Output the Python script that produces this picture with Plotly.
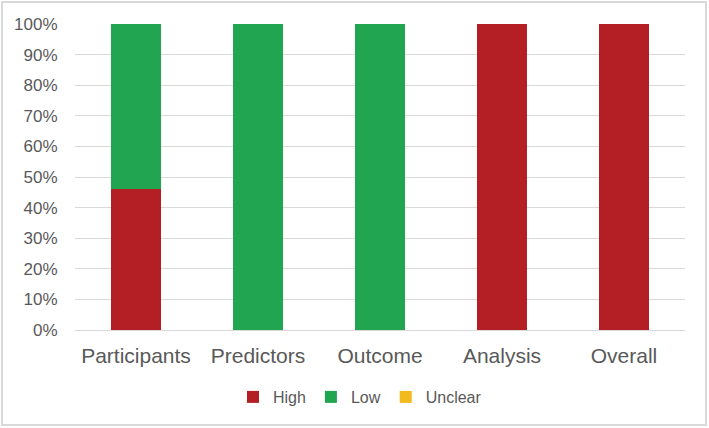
import plotly.graph_objects as go

categories = ["Participants", "Predictors", "Outcome", "Analysis", "Overall"]
high = [46, 0, 0, 100, 100]
low = [54, 100, 100, 0, 0]
unclear = [0, 0, 0, 0, 0]
tick_vals = [0, 10, 20, 30, 40, 50, 60, 70, 80, 90, 100]
tick_text = [f"{v}%" for v in tick_vals]

fig = go.Figure()
fig.add_trace(go.Bar(x=categories, y=high, name="High", marker=dict(color="#B41F26", line=dict(width=0))))
fig.add_trace(go.Bar(x=categories, y=low, name="Low", marker=dict(color="#21A550", line=dict(width=0))))
fig.add_trace(go.Bar(x=categories, y=unclear, name="Unclear", marker=dict(color="#F2BA1C", line=dict(width=0))))

L, R, T, B = 75, 24, 24, 98
W, H = 709, 428
pw, ph = W - L - R, H - T - B

fig.update_layout(
    barmode="stack",
    bargap=0.59,
    width=W, height=H,
    margin=dict(l=L, r=R, t=T, b=B),
    paper_bgcolor="white",
    plot_bgcolor="white",
    font=dict(family="Liberation Sans, Arial, sans-serif", color="#595959"),
    showlegend=True,
    legend=dict(orientation="h", x=(360 - L) / pw, xanchor="center", y=(330 - 397) / ph, yanchor="middle",
                font=dict(size=16, color="#595959"), itemwidth=30, traceorder="normal"),
    xaxis=dict(tickfont=dict(size=21, color="#595959"), showgrid=False, showline=True,
               linecolor="#D9D9D9", linewidth=1, ticks="outside", ticklen=7, tickcolor="rgba(0,0,0,0)"),
    yaxis=dict(range=[0, 100], tickvals=tick_vals, ticktext=tick_text, tickfont=dict(size=17, color="#595959"),
               showgrid=True, gridcolor="#D9D9D9", gridwidth=1, zeroline=False,
               ticks="outside", ticklen=13, tickcolor="rgba(0,0,0,0)"),
    shapes=[dict(type="rect", xref="paper", yref="paper",
                 x0=(2 - L) / pw, x1=(706 - L) / pw, y0=(330 - 425) / ph, y1=(330 - 2) / ph,
                 line=dict(color="#D9D9D9", width=2), fillcolor="rgba(0,0,0,0)", layer="below")],
)

fig.write_html("out.html", config={"displayModeBar": False},
               post_script="document.body.style.margin='0';document.body.style.overflow='hidden';")
